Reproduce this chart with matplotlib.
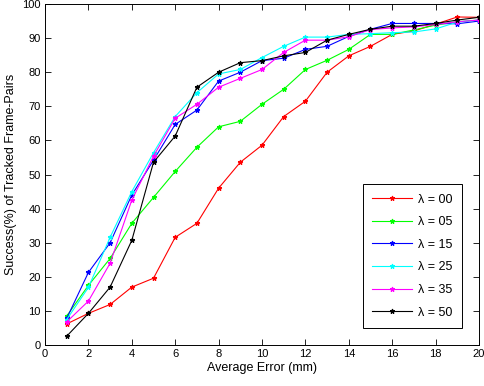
import matplotlib
matplotlib.use("Agg")
import matplotlib.pyplot as plt

# average error (mm)
errors = list(range(1, 21))

# success (%) for each lambda setting
succ_00 = [6.2, 9.3, 11.9, 17.0, 19.6, 31.6, 35.7, 46.0, 53.6, 58.6,
           67.0, 71.5, 80.0, 84.8, 87.6, 91.1, 92.1, 94.1, 96.2, 96.1]
succ_05 = [8.5, 17.5, 25.4, 35.7, 43.3, 50.9, 58.0, 64.0, 65.6, 70.6,
           75.0, 80.8, 83.5, 86.7, 91.1, 91.1, 92.4, 93.8, 94.8, 95.3]
succ_15 = [7.8, 21.3, 30.0, 44.0, 54.2, 64.7, 68.9, 77.4, 80.0, 83.4,
           84.1, 86.7, 87.6, 90.5, 92.6, 94.3, 94.3, 94.3, 94.2, 95.0]
succ_25 = [7.5, 16.9, 31.6, 45.0, 56.4, 67.0, 74.0, 79.5, 80.8, 84.3,
           87.6, 90.3, 90.3, 91.1, 91.3, 91.6, 91.8, 92.7, 94.7, 95.3]
succ_35 = [6.8, 12.9, 24.0, 42.5, 55.4, 66.5, 70.6, 75.6, 78.2, 80.8,
           85.8, 89.4, 89.4, 90.4, 92.5, 93.0, 93.3, 94.0, 94.8, 95.3]
succ_50 = [2.6, 9.3, 17.0, 30.7, 53.6, 61.3, 75.6, 80.0, 82.8, 83.4,
           84.8, 85.8, 89.4, 91.1, 92.6, 93.5, 93.5, 94.3, 95.3, 96.1]

labels = ["λ = 00", "λ = 05", "λ = 15", "λ = 25", "λ = 35", "λ = 50"]
colors = ["#ff0000", "#00ff00", "#0000ff", "#00ffff", "#ff00ff", "#000000"]
series = [succ_00, succ_05, succ_15, succ_25, succ_35, succ_50]

plt.rcParams['font.family'] = ['Liberation Sans', 'DejaVu Sans']
plt.rcParams['font.size'] = 8

fig = plt.figure(figsize=(4.85, 3.86), dpi=100)
ax = fig.add_axes([0.0928, 0.106, 0.8948, 0.8836])

for vals, c, lab in zip(series, colors, labels):
    ax.plot(errors, vals, color=c, linewidth=0.8, marker='*',
            markersize=3.5, markeredgewidth=0.8, label=lab)

ax.set_xlim(0, 20)
ax.set_ylim(0, 100)
ax.set_xticks(range(0, 21, 2))
ax.set_yticks(range(0, 101, 10))
ax.tick_params(direction='in', top=True, right=True, length=4,
               width=0.6, labelsize=8, pad=3)
for sp in ax.spines.values():
    sp.set_linewidth(0.7)

ax.set_xlabel("Average Error (mm)", fontsize=9, labelpad=2)
ax.set_ylabel("Success(%) of Tracked Frame-Pairs", fontsize=9, labelpad=4)

leg = ax.legend(loc='lower right', bbox_to_anchor=(0.961, 0.05),
                fontsize=9, handlelength=3.2, labelspacing=0.85,
                borderpad=0.75, handletextpad=0.5, fancybox=False,
                edgecolor='black', framealpha=1, borderaxespad=0)
leg.get_frame().set_linewidth(0.7)

plt.savefig("out.png", dpi=100)
